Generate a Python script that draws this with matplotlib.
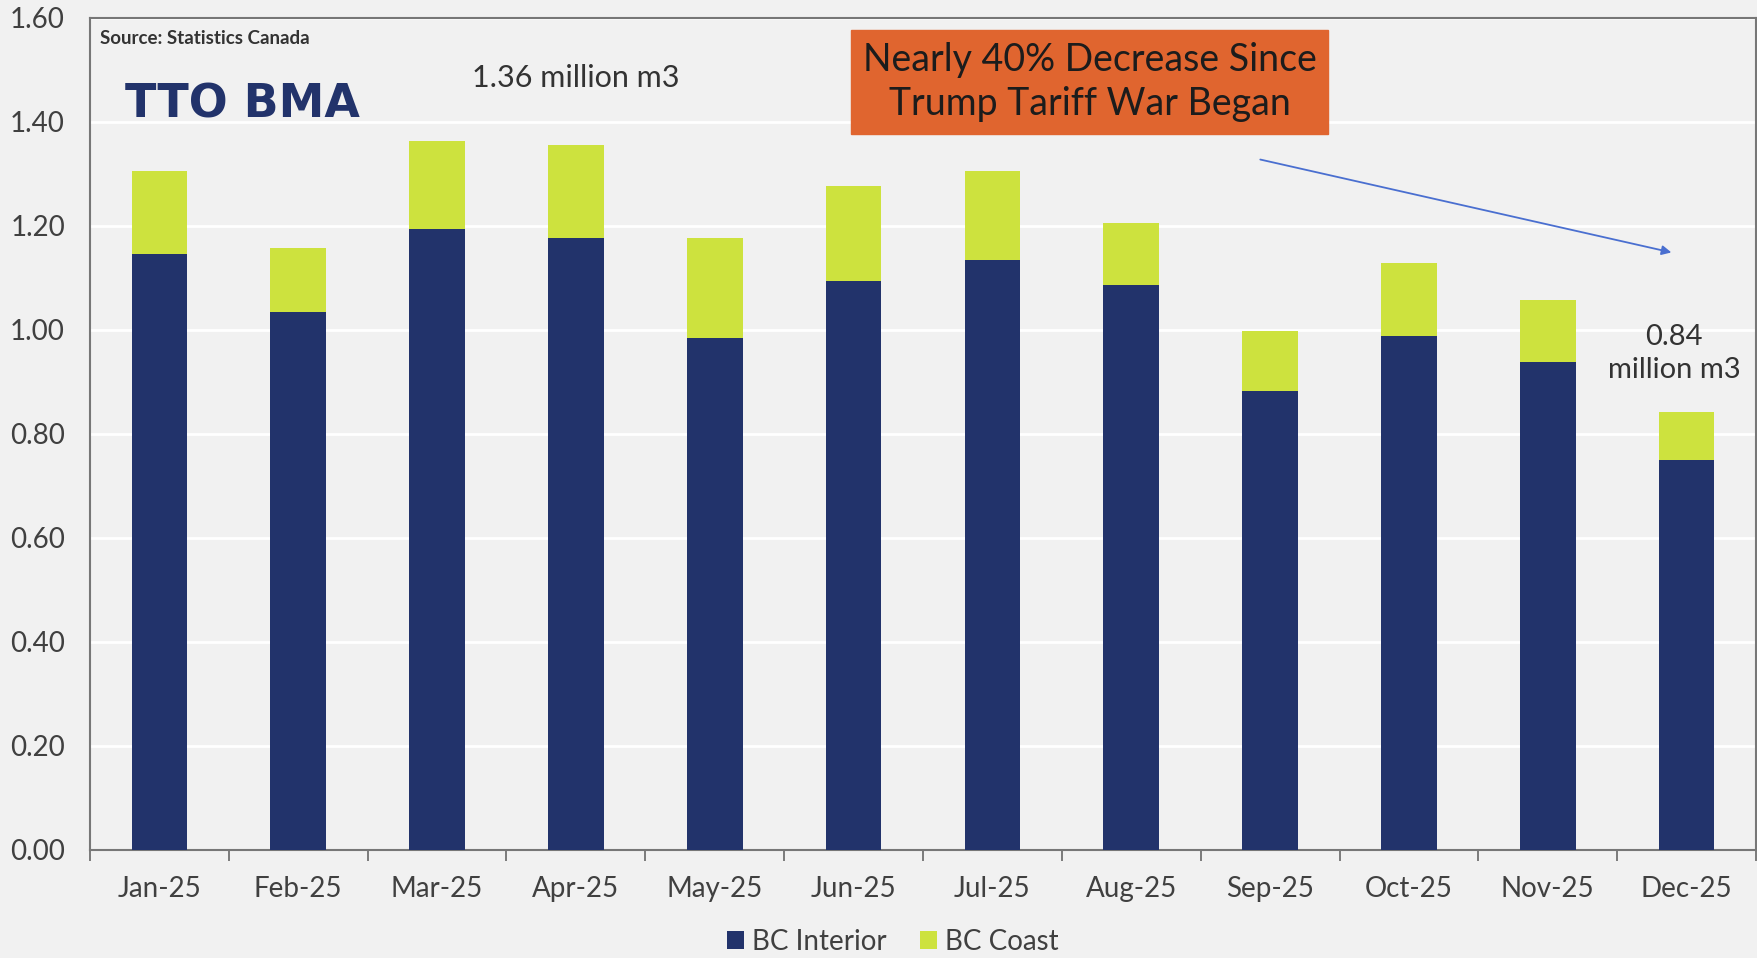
import matplotlib
matplotlib.use("Agg")
import matplotlib.pyplot as plt
import numpy as np

# monthly softwood lumber production, million m3
months = ["Jan-25", "Feb-25", "Mar-25", "Apr-25", "May-25", "Jun-25",
          "Jul-25", "Aug-25", "Sep-25", "Oct-25", "Nov-25", "Dec-25"]
bc_interior = [1.147, 1.035, 1.195, 1.177, 0.985, 1.095,
               1.134, 1.087, 0.882, 0.988, 0.938, 0.750]
bc_total = [1.305, 1.158, 1.363, 1.356, 1.177, 1.277,
            1.305, 1.205, 0.998, 1.128, 1.057, 0.843]
bc_coast = [t - i for t, i in zip(bc_total, bc_interior)]

y_ticks = [0.0, 0.2, 0.4, 0.6, 0.8, 1.0, 1.2, 1.4, 1.6]

NAVY = "#22336b"
LIME = "#cde23e"
BG = "#f1f1f1"

plt.rcParams["font.family"] = ["Lato", "DejaVu Sans"]

fig = plt.figure(figsize=(17.58, 9.58), dpi=100, facecolor=BG)
ax = fig.add_axes([90 / 1758, 1 - 850 / 958, (1756 - 90) / 1758, (850 - 18) / 958])
ax.set_facecolor(BG)

x = np.arange(len(months))
ax.bar(x, bc_interior, width=0.4, color=NAVY, label="BC Interior", zorder=3)
ax.bar(x, bc_coast, width=0.4, bottom=bc_interior, color=LIME, label="BC Coast", zorder=3)

ax.set_xlim(-0.5, len(months) - 0.5)
ax.set_ylim(0, 1.6)
ax.set_yticks(y_ticks)
ax.set_yticklabels([f"{v:.2f}" for v in y_ticks], fontsize=20, color="#404040")
ax.tick_params(axis="y", length=0, pad=18)

ax.set_xticks(x)
ax.set_xticklabels(months, fontsize=20, color="#404040")
ax.tick_params(axis="x", length=0, pad=19)
ax.set_xticks(np.arange(len(months) + 1) - 0.5, minor=True)
ax.tick_params(axis="x", which="minor", length=8, direction="out", color="#666666", width=1.2)

ax.grid(axis="y", color="white", linewidth=2, zorder=0)
for s in ax.spines.values():
    s.set_color("#777777")
    s.set_linewidth(1.5)

# annotations
ax.text(0.006, 0.985, "Source: Statistics Canada", transform=ax.transAxes,
        fontsize=13.5, fontweight="bold", color="#333333", va="top")
ax.text(0.021, 0.895, "TTO BMA", transform=ax.transAxes, fontsize=33,
        fontweight="bold", color=NAVY, va="center", family="DejaVu Sans")
ax.text(3.0, 1.485, "1.36 million m3", fontsize=22, color="#333333",
        ha="center", va="center")
ax.text(10.91, 0.955, "0.84\nmillion m3", fontsize=21, color="#333333",
        ha="center", va="center", linespacing=1.3)

ax.text(6.70, 1.477, "Nearly 40% Decrease Since\nTrump Tariff War Began",
        fontsize=27, color="#1c1c1c", ha="center", va="center", linespacing=1.3,
        bbox=dict(boxstyle="square,pad=0.3", facecolor="#e0652f", edgecolor="#e0652f"))

ax.annotate("", xy=(10.91, 1.148), xytext=(7.91, 1.329),
            arrowprops=dict(arrowstyle="-|>", color="#4a6fd0", lw=1.3,
                            mutation_scale=14))

leg = fig.legend(loc="center", bbox_to_anchor=(893 / 1758, 1 - 942 / 958), ncol=2,
                 frameon=False, fontsize=20, handlelength=0.6, handleheight=0.6,
                 handletextpad=0.3, columnspacing=1.2)
for t in leg.get_texts():
    t.set_color("#404040")

fig.savefig("out.png", dpi=100, facecolor=BG)
